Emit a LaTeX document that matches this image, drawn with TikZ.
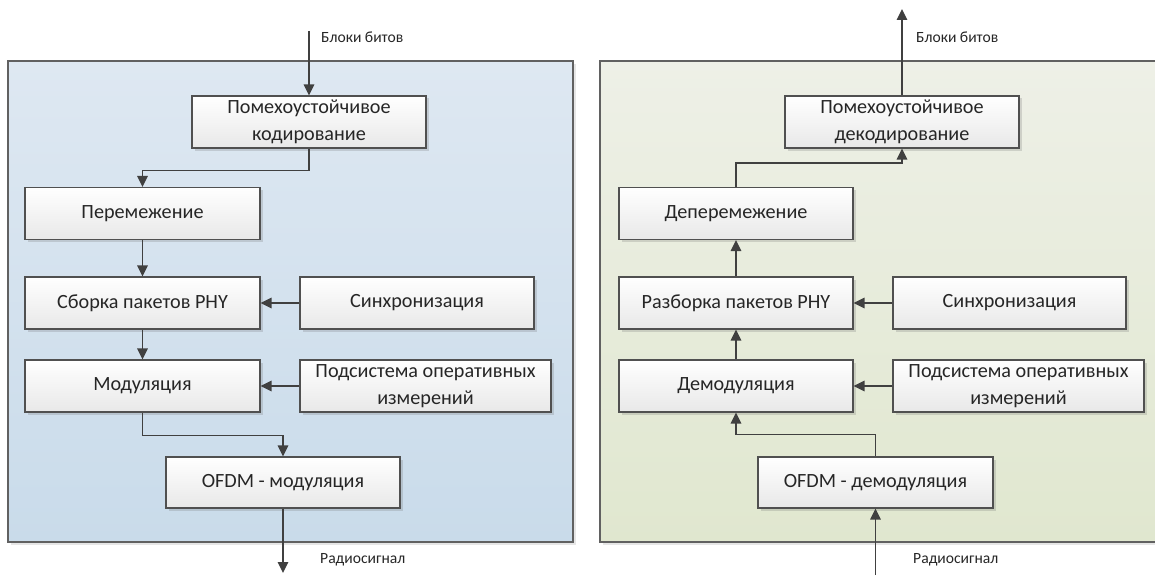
\documentclass[tikz,border=0pt]{standalone}
\usepackage{fontspec}
\setmainfont{Carlito}
\usetikzlibrary{arrows.meta,shadows}
\definecolor{lineC}{HTML}{404040}
\definecolor{boxB}{HTML}{505050}
\definecolor{txtC}{HTML}{262626}
\definecolor{bluT}{HTML}{DEE8F2}
\definecolor{bluB}{HTML}{C9DBEA}
\definecolor{grnT}{HTML}{EEF0E7}
\definecolor{grnB}{HTML}{E0E7CF}
\tikzset{
  blk/.style={draw=boxB, line width=1.2pt, top color=white, bottom color=black!9,
    minimum width=234pt, minimum height=52pt, inner sep=0pt, align=center,
    text=txtC, font=\fontsize{20.2}{27}\selectfont,
    drop shadow={shadow xshift=2.5pt, shadow yshift=-2.5pt, opacity=0.22, fill=black!60}},
  panelL/.style={draw=black!62, line width=1.8pt, top color=bluT, bottom color=bluB,
    drop shadow={shadow xshift=3pt, shadow yshift=-3pt, opacity=0.2, fill=black!50}},
  panelR/.style={draw=black!62, line width=1.8pt, top color=grnT, bottom color=grnB,
    drop shadow={shadow xshift=3pt, shadow yshift=-3pt, opacity=0.2, fill=black!50}},
  arr/.style={draw=lineC, line width=1.4pt, -{Triangle[length=11pt,width=10.5pt]}},
  lbl/.style={text=txtC, font=\fontsize{15.6}{18}\selectfont, anchor=west, inner sep=0pt}
}
\begin{document}
\begin{tikzpicture}[x=1pt,y=-1pt]
\useasboundingbox (0,0) rectangle (1155,575);
% panels
\path[panelL] (8,61) rectangle (573,542);
\path[panelR] (600,61) rectangle (1170,542);

% left chain
\node[blk] (code) at (309,122) {Помехоустойчивое\\кодирование};
\node[blk, minimum width=235pt] (inter) at (142.5,213.5) {Перемежение};
\node[blk, minimum width=235pt] (asm) at (142.5,303) {Сборка пакетов PHY};
\node[blk] (sync) at (417,303) {Синхронизация};
\node[blk, minimum width=235pt] (mod) at (142.5,386) {Модуляция};
\node[blk, minimum width=251pt] (meas) at (425.5,386) {Подсистема оперативных\\измерений};
\node[blk, minimum width=234pt, minimum height=51pt] (ofdm) at (283,482.5) {OFDM - модуляция};

\coordinate (inL) at (309,31);
\coordinate (outL) at (283,573);
\node[lbl] (lblInL) at (321,37) {Блоки битов};
\node[lbl] (lblOutL) at (320,560) {Радиосигнал};

\draw[arr] (inL) -- (code.north);
\draw[arr] (code.south) -- ++(0,22) -| (inter.north);
\draw[arr] (inter.south) -- (asm.north);
\draw[arr] (sync.west) -- (asm.east);
\draw[arr] (asm.south) -- (mod.north);
\draw[arr] (meas.west) -- (mod.east);
\draw[arr] (mod.south) -- ++(0,23) -| (ofdm.north);
\draw[arr] (ofdm.south) -- (outL);

% right chain
\node[blk] (dcode) at (902,122) {Помехоустойчивое\\декодирование};
\node[blk] (deint) at (736,213.5) {Деперемежение};
\node[blk] (dasm) at (736,303) {Разборка пакетов PHY};
\node[blk, minimum width=233pt] (sync2) at (1009.5,303) {Синхронизация};
\node[blk] (demod) at (736,386) {Демодуляция};
\node[blk, minimum width=251pt] (meas2) at (1018.5,386) {Подсистема оперативных\\измерений};
\node[blk, minimum width=235pt, minimum height=51pt] (odemod) at (875.5,482.5) {OFDM - демодуляция};

\coordinate (outR) at (902,9);
\coordinate (inR) at (875.5,575);
\node[lbl] (lblOutR) at (916,37) {Блоки битов};
\node[lbl] (lblInR) at (913,560) {Радиосигнал};

\draw[arr] (dcode.north) -- (outR);
\draw[arr] (deint.north) -- ++(0,-24) -| (dcode.south);
\draw[arr] (dasm.north) -- (deint.south);
\draw[arr] (sync2.west) -- (dasm.east);
\draw[arr] (demod.north) -- (dasm.south);
\draw[arr] (meas2.west) -- (demod.east);
\draw[arr] (odemod.north) -- ++(0,-22) -| (demod.south);
\draw[arr] (inR) -- (odemod.south);
\end{tikzpicture}
\end{document}
